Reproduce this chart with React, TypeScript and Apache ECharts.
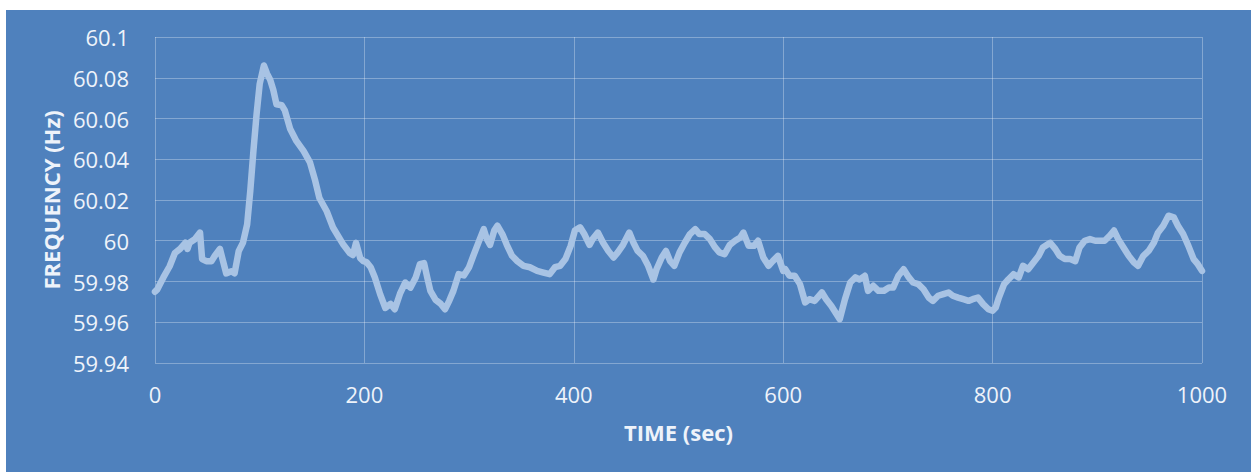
import React, { useEffect, useRef } from "react";
import * as echarts from "echarts";

const timeSec: number[] = [
  0, 2, 8, 14, 19, 24, 29, 31, 33, 38, 43, 45, 49, 54, 57, 62, 65, 68, 73, 76, 80, 84, 88, 91, 94, 97, 100,
  104, 107, 110, 113, 116, 121, 124, 129, 135, 142, 148, 153, 157, 164, 170, 175, 180, 186, 189, 192, 196,
  199, 202, 206, 210, 215, 220, 225, 229, 234, 239, 244, 249, 253, 257, 260, 263, 268, 273, 277, 281, 285,
  290, 295, 300, 304, 309, 314, 317, 320, 324, 327, 332, 336, 341, 346, 352, 358, 365, 371, 377, 382, 387,
  392, 397, 401, 406, 410, 415, 418, 423, 428, 433, 438, 442, 447, 453, 457, 461, 466, 471, 476, 479, 484,
  488, 492, 496, 501, 506, 511, 516, 520, 525, 530, 535, 539, 544, 549, 554, 559, 562, 567, 572, 576, 581,
  586, 590, 595, 600, 602, 606, 611, 616, 621, 625, 630, 637, 641, 646, 651, 654, 659, 664, 669, 673, 678,
  681, 686, 691, 696, 701, 705, 710, 715, 720, 724, 729, 734, 739, 743, 748, 753, 758, 762, 767, 772, 777,
  781, 786, 791, 796, 800, 803, 806, 811, 815, 820, 825, 829, 834, 839, 844, 848, 855, 860, 864, 869, 874,
  879, 883, 888, 893, 898, 903, 907, 912, 916, 920, 925, 930, 935, 939, 944, 949, 954, 958, 963, 968, 973,
  977, 982, 987, 992, 996, 1000,
];

const frequencyHz: number[] = [
  59.975, 59.976, 59.982, 59.9875, 59.994, 59.996, 59.999, 59.996, 59.999, 60.0007, 60.004, 59.991, 59.99,
  59.99, 59.9925, 59.996, 59.99, 59.984, 59.985, 59.984, 59.995, 59.999, 60.008, 60.0245, 60.044, 60.062,
  60.077, 60.086, 60.082, 60.079, 60.074, 60.067, 60.0665, 60.064, 60.055, 60.049, 60.044, 60.0385, 60.0295,
  60.021, 60.0145, 60.0065, 60.0022, 59.998, 59.994, 59.993, 59.999, 59.9915, 59.99, 59.9895, 59.987, 59.982,
  59.9738, 59.967, 59.969, 59.9664, 59.974, 59.9795, 59.977, 59.982, 59.9885, 59.989, 59.982, 59.9754,
  59.971, 59.969, 59.9664, 59.9705, 59.9754, 59.9836, 59.983, 59.987, 59.9926, 59.9992, 60.0057, 60.0008,
  59.998, 60.005, 60.0074, 60.003, 59.998, 59.9926, 59.99, 59.9877, 59.987, 59.9852, 59.9844, 59.9836,
  59.987, 59.9877, 59.991, 59.9975, 60.005, 60.0066, 60.0033, 59.998, 60.0008, 60.004, 59.999, 59.995,
  59.9918, 59.9943, 59.998, 60.004, 59.999, 59.995, 59.9926, 59.9877, 59.981, 59.986, 59.9918, 59.995, 59.99,
  59.9877, 59.9943, 59.999, 60.0033, 60.0057, 60.0033, 60.0033, 60.0008, 59.9967, 59.9943, 59.9934, 59.998,
  60.0, 60.0016, 60.004, 59.9975, 59.9975, 60.0, 59.9918, 59.9877, 59.99, 59.9926, 59.9852, 59.986, 59.9828,
  59.9828, 59.9787, 59.9697, 59.9713, 59.9705, 59.9746, 59.9713, 59.968, 59.9639, 59.9615, 59.9713, 59.9795,
  59.982, 59.981, 59.9828, 59.9754, 59.9779, 59.9754, 59.9754, 59.977, 59.977, 59.9828, 59.986, 59.982,
  59.9795, 59.9787, 59.9762, 59.9721, 59.9705, 59.973, 59.9738, 59.9746, 59.973, 59.9721, 59.9713, 59.9705,
  59.9713, 59.9721, 59.9689, 59.9664, 59.9656, 59.9672, 59.9721, 59.9787, 59.981, 59.9836, 59.982, 59.9877,
  59.986, 59.9893, 59.9926, 59.9967, 59.999, 59.9959, 59.9926, 59.991, 59.991, 59.99, 59.9967, 60.0, 60.0008,
  60.0, 60.0, 60.0, 60.0025, 60.005, 60.0008, 59.9967, 59.9926, 59.9893, 59.9877, 59.9926, 59.995, 59.999,
  60.004, 60.0074, 60.0123, 60.0115, 60.0074, 60.0033, 59.9975, 59.991, 59.9885, 59.9852,
];

const xTitle = "TIME (sec)";
const yTitle = "FREQUENCY (Hz)";

export default function App() {
  const ref = useRef<HTMLDivElement>(null);
  useEffect(() => {
    if (!ref.current) return;
    const chart = echarts.init(ref.current, undefined, { renderer: "svg" });
    const textColor = "#eef3fa";
    const gridColor = "rgba(255,255,255,0.3)";
    const font = "'Open Sans', sans-serif";
    chart.setOption({
      animation: false,
      backgroundColor: "#ffffff",
      graphic: [
        {
          type: "rect",
          left: 6,
          top: 10,
          shape: { width: 1245, height: 462 },
          style: { fill: "#4f81bd" },
          z: -10,
          silent: true,
        },
      ],
      grid: { left: 155, right: 49, top: 37, bottom: 109 },
      xAxis: {
        type: "value",
        min: 0,
        max: 1000,
        interval: 200,
        name: xTitle,
        nameLocation: "middle",
        nameGap: 58,
        nameTextStyle: { color: textColor, fontFamily: font, fontSize: 22, fontWeight: "bold" },
        axisLine: { show: false },
        axisTick: { show: false },
        axisLabel: {
          color: textColor,
          fontFamily: font,
          fontSize: 22,
          margin: 20,
          formatter: (v: number) => String(v),
        },
        splitLine: { show: true, lineStyle: { color: gridColor, width: 1 } },
      },
      yAxis: {
        type: "value",
        min: 59.94,
        max: 60.1,
        interval: 0.02,
        name: yTitle,
        nameLocation: "middle",
        nameGap: 93,
        nameTextStyle: { color: textColor, fontFamily: font, fontSize: 22, fontWeight: "bold" },
        axisLine: { show: false },
        axisTick: { show: false },
        axisLabel: {
          color: textColor,
          fontFamily: font,
          fontSize: 22,
          margin: 26,
          formatter: (v: number) => String(parseFloat(v.toFixed(2))),
        },
        splitLine: { show: true, lineStyle: { color: gridColor, width: 1 } },
      },
      series: [
        {
          type: "line",
          data: timeSec.map((t, i) => [t, frequencyHz[i]]),
          showSymbol: false,
          lineStyle: { color: "#a8c3e4", width: 6.5, join: "round", cap: "round" },
          silent: true,
        },
      ],
    });
    return () => chart.dispose();
  }, []);
  return (
    <div
      ref={ref}
      style={{ position: "absolute", left: 0, top: 0, width: 1251, height: 472 }}
    />
  );
}
